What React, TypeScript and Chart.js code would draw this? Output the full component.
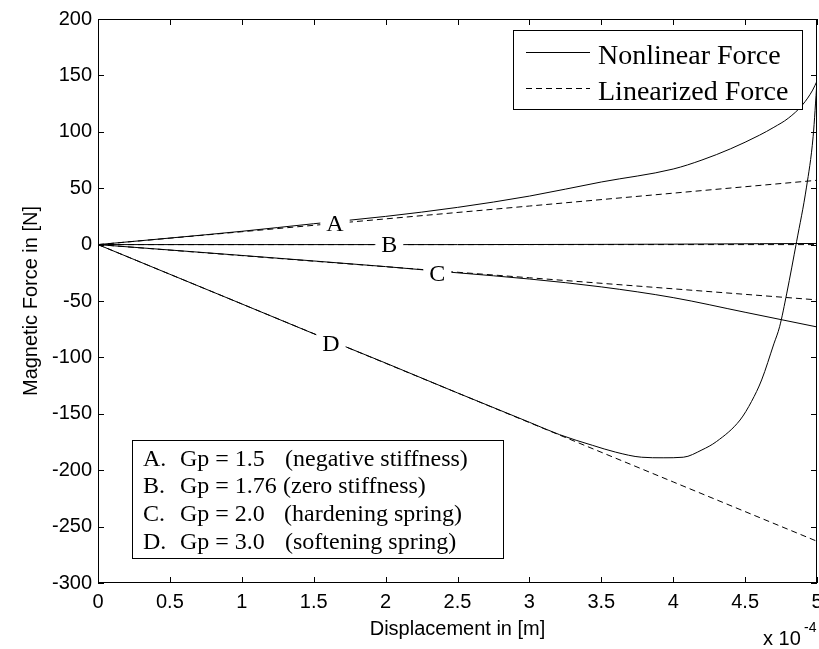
import React, { useEffect, useRef } from "react";
import { Chart, registerables } from "chart.js";

Chart.register(...registerables);

// ---- data (x in units of 1e-4 m, force in N) ----
const xA = [0, 0.5, 1, 1.5, 2, 2.5, 3, 3.5, 4, 4.2, 4.4, 4.6, 4.7, 4.8, 4.9, 4.97, 5];
const nonlinA = [0, 5.8, 11.8, 18.5, 25, 33, 43, 55.5, 67, 75, 85, 97, 104, 112, 124, 137, 145];

const xB = [0, 0.5, 1, 1.5, 2, 2.5, 3, 3.5, 4, 4.3, 4.6, 5];
const nonlinB = [0, 0, 0, 0, 0, 0, 0.1, 0.2, 0.4, 0.6, 0.8, 1];

const xC = [0, 0.5, 1, 1.5, 2, 2.5, 3, 3.5, 4, 4.5, 5];
const nonlinC = [0, -4.8, -9.6, -14.5, -19.5, -25, -30.5, -37.5, -47, -60, -73];

const xD = [0, 0.5, 1, 1.5, 2, 2.5, 3, 3.21, 3.44, 3.6, 3.78, 3.93, 4.07, 4.2, 4.3, 4.465, 4.545, 4.615, 4.7, 4.74, 4.79, 4.858, 4.927, 4.973, 5];
const nonlinD = [0, -26.3, -52.6, -79, -105, -131.5, -157.5, -168.5, -178, -184, -188.5, -189, -188.5, -182, -174.7, -155.5, -139, -120, -88, -72.8, -43, 2.6, 51, 95.6, 145];

const xLin = [0, 1, 2, 3, 4, 5];
const linA = [0, 11.4, 22.8, 34.2, 45.6, 57];
const linB = [0, 0, 0, 0, 0, 0];
const linC = [0, -9.8, -19.6, -29.4, -39.2, -49];
const linD = [0, -52.6, -105.2, -157.8, -210.4, -263];

const xTicks = [0, 0.5, 1, 1.5, 2, 2.5, 3, 3.5, 4, 4.5, 5];
const yTicks = [-300, -250, -200, -150, -100, -50, 0, 50, 100, 150, 200];

const curveLetters = ["A", "B", "C", "D"];
const curveLabelX = [1.648, 2.026, 2.36, 1.62];
const curveLabelY = [18.9, 0, -26.2, -87.5];

const legendLabels = ["Nonlinear Force", "Linearized Force"];
const caseLetters = ["A.", "B.", "C.", "D."];
const caseGp = ["Gp = 1.5", "Gp = 1.76", "Gp = 2.0", "Gp = 3.0"];
const caseDesc = ["(negative stiffness)", "(zero stiffness)", "(hardening spring)", "(softening spring)"];

const xTitle = "Displacement in [m]";
const yTitle = "Magnetic Force in [N]";
const xExponent = ["x 10", "-4"];

const SANS = "'Liberation Sans', Arial, Helvetica, sans-serif";
const SERIF = "'Liberation Serif', 'Times New Roman', serif";

const pts = (xs: number[], ys: number[]) => xs.map((x, i) => ({ x, y: ys[i] }));

const decorPlugin = {
  id: "decor",
  afterDatasetsDraw(chart: any) {
    const { ctx, scales } = chart;
    const xs = scales.x;
    const ys = scales.y;
    ctx.save();
    ctx.font = `24px ${SERIF}`;
    ctx.textAlign = "center";
    ctx.textBaseline = "middle";
    curveLetters.forEach((t, i) => {
      const px = xs.getPixelForValue(curveLabelX[i]);
      const py = ys.getPixelForValue(curveLabelY[i]);
      const w = ctx.measureText(t).width + 12;
      ctx.fillStyle = "#fff";
      ctx.fillRect(px - w / 2, py - 10, w, 20);
      ctx.fillStyle = "#000";
      ctx.fillText(t, px, py + 1);
    });
    ctx.restore();
  },
  afterDraw(chart: any) {
    const { ctx, chartArea, scales } = chart;
    const { left, right, top, bottom } = chartArea;
    ctx.save();
    ctx.strokeStyle = "#000";
    ctx.lineWidth = 1;
    ctx.strokeRect(Math.round(left) + 0.5, Math.round(top) + 0.5, Math.round(right - left) - 1, Math.round(bottom - top) - 1);
    const tl = 6;
    ctx.beginPath();
    scales.x.ticks.forEach((t: any) => {
      const px = Math.round(scales.x.getPixelForValue(t.value)) + 0.5;
      ctx.moveTo(px, bottom);
      ctx.lineTo(px, bottom - tl);
      ctx.moveTo(px, top);
      ctx.lineTo(px, top + tl);
    });
    scales.y.ticks.forEach((t: any) => {
      const py = Math.round(scales.y.getPixelForValue(t.value)) + 0.5;
      ctx.moveTo(left, py);
      ctx.lineTo(left + tl, py);
      ctx.moveTo(right, py);
      ctx.lineTo(right - tl, py);
    });
    ctx.stroke();

    ctx.fillStyle = "#000";
    ctx.textAlign = "left";
    ctx.textBaseline = "alphabetic";
    ctx.font = `20px ${SANS}`;
    ctx.fillText(xExponent[0], 763, 645);
    ctx.font = `14px ${SANS}`;
    ctx.fillText(xExponent[1], 804, 632);

    // top-right legend
    ctx.fillStyle = "#fff";
    ctx.fillRect(513, 30, 289, 79);
    ctx.strokeRect(513.5, 30.5, 289, 79);
    ctx.beginPath();
    ctx.moveTo(526, 52.5);
    ctx.lineTo(590, 52.5);
    ctx.stroke();
    ctx.setLineDash([6, 4]);
    ctx.beginPath();
    ctx.moveTo(526, 88.5);
    ctx.lineTo(590, 88.5);
    ctx.stroke();
    ctx.setLineDash([]);
    ctx.fillStyle = "#000";
    ctx.font = `28px ${SERIF}`;
    ctx.fillText(legendLabels[0], 598, 63.5);
    ctx.fillText(legendLabels[1], 598, 100);

    // bottom-left case box
    ctx.fillStyle = "#fff";
    ctx.fillRect(132, 440, 371, 118);
    ctx.strokeRect(132.5, 440.5, 371, 118);
    ctx.fillStyle = "#000";
    ctx.font = `24px ${SERIF}`;
    const descX = [285, 283, 284, 285];
    caseLetters.forEach((l, i) => {
      const by = 465.5 + i * 27.9;
      ctx.fillText(l, 143, by);
      ctx.fillText(caseGp[i], 180, by);
      ctx.fillText(caseDesc[i], descX[i], by);
    });
    ctx.restore();
  },
};

export default function App() {
  const ref = useRef<HTMLCanvasElement>(null);
  useEffect(() => {
    if (!ref.current) return;
    const solid = { borderColor: "#000", borderWidth: 1, pointRadius: 0, fill: false, cubicInterpolationMode: "monotone" };
    const dashed = { borderColor: "#000", borderWidth: 1, pointRadius: 0, fill: false, tension: 0, borderDash: [6, 4] };
    const chart = new Chart(ref.current, {
      type: "line",
      data: {
        datasets: [
          { label: "A lin", data: pts(xLin, linA), ...dashed },
          { label: "B lin", data: pts(xLin, linB), ...dashed },
          { label: "C lin", data: pts(xLin, linC), ...dashed },
          { label: "D lin", data: pts(xLin, linD), ...dashed },
          { label: "A", data: pts(xA, nonlinA), ...solid },
          { label: "B", data: pts(xB, nonlinB), ...solid },
          { label: "C", data: pts(xC, nonlinC), ...solid },
          { label: "D", data: pts(xD, nonlinD), ...solid },
        ],
      },
      options: {
        animation: false,
        responsive: false,
        devicePixelRatio: 1,
        layout: { padding: { top: 19, right: 2, left: 0, bottom: 0 }, autoPadding: false },
        plugins: { legend: { display: false }, tooltip: { enabled: false } },
        scales: {
          x: {
            type: "linear",
            min: 0,
            max: 5,
            afterBuildTicks: (s: any) => { s.ticks = xTicks.map((v) => ({ value: v })); },
            afterFit: (s: any) => { s.height = 66; s.paddingLeft = 0; s.paddingRight = 0; },
            grid: { display: false, drawTicks: false },
            border: { display: false },
            ticks: {
              color: "#000",
              padding: 7,
              maxRotation: 0,
              autoSkip: false,
              font: { family: SANS, size: 20 },
              callback: (v: any) => String(v),
            },
            title: { display: true, text: xTitle, color: "#000", font: { family: SANS, size: 20 }, padding: { top: 0, bottom: 8 } },
          },
          y: {
            type: "linear",
            min: -300,
            max: 200,
            afterBuildTicks: (s: any) => { s.ticks = yTicks.map((v) => ({ value: v })); },
            afterFit: (s: any) => { s.width = 98; s.paddingTop = 0; s.paddingBottom = 0; },
            grid: { display: false, drawTicks: false },
            border: { display: false },
            ticks: {
              color: "#000",
              padding: 6,
              autoSkip: false,
              font: { family: SANS, size: 20 },
              callback: (v: any) => String(v),
            },
            title: { display: true, text: yTitle, color: "#000", font: { family: SANS, size: 20 }, padding: { top: 19, bottom: 0 } },
          },
        },
      },
      plugins: [decorPlugin],
    } as any);
    return () => chart.destroy();
  }, []);
  return (
    <div style={{ position: "fixed", left: 0, top: 0, width: 819, height: 649, background: "#fff" }}>
      <canvas ref={ref} width={819} height={649} />
    </div>
  );
}
